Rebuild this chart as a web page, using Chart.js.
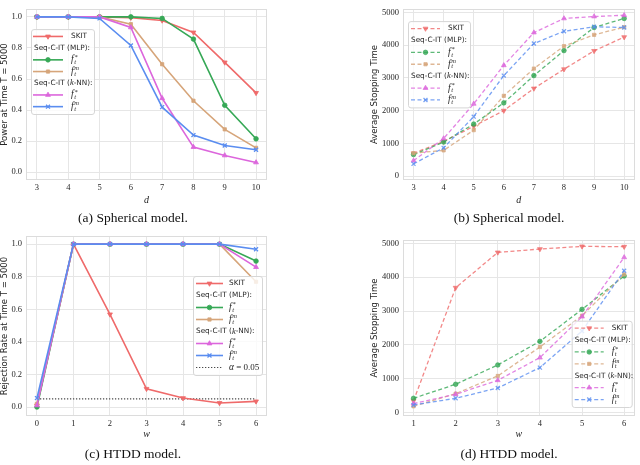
<!DOCTYPE html>
<html>
<head>
<meta charset="utf-8">
<script src="https://cdn.jsdelivr.net/npm/chart.js@4.4.0/dist/chart.umd.min.js"></script>
<style>
  body { margin: 0; background: #fff; width: 640px; height: 465px; position: relative; overflow: hidden; }
  .panel { position: absolute; }
  canvas { display: block; }
  .cap { position: absolute; width: 240px; text-align: center; font-family: 'Liberation Serif', serif; font-size: 13.5px; color: #111; }
</style>
</head>
<body>
<div class="panel" style="left:0;top:0"><canvas id="chartA" width="320" height="210"></canvas></div>
<div class="panel" style="left:320px;top:0"><canvas id="chartB" width="320" height="210"></canvas></div>
<div class="panel" style="left:0;top:225px"><canvas id="chartC" width="320" height="222"></canvas></div>
<div class="panel" style="left:320px;top:225px"><canvas id="chartD" width="320" height="222"></canvas></div>
<div class="cap" style="left:13px;top:210px">(a) Spherical model.</div>
<div class="cap" style="left:389px;top:210px">(b) Spherical model.</div>
<div class="cap" style="left:13px;top:446px">(c) HTDD model.</div>
<div class="cap" style="left:389px;top:446px">(d) HTDD model.</div>

<script>
// x values
const dValues = [3, 4, 5, 6, 7, 8, 9, 10];
const wValues = [0, 1, 2, 3, 4, 5, 6];
const wValuesStop = [1, 2, 3, 4, 5, 6];

// (a) power at T = 5000, spherical model
const powerSkit    = [1.0, 1.0, 1.0, 0.995, 0.977, 0.90, 0.707, 0.511];
const powerMlpStar = [1.0, 1.0, 1.0, 1.0, 0.99, 0.857, 0.431, 0.215];
const powerMlpM    = [1.0, 1.0, 1.0, 0.953, 0.695, 0.46, 0.276, 0.157];
const powerKnnStar = [1.0, 1.0, 1.0, 0.932, 0.476, 0.162, 0.108, 0.063];
const powerKnnM    = [1.0, 1.0, 0.99, 0.816, 0.419, 0.239, 0.172, 0.145];

// (b) average stopping time, spherical model
const stopSphSkit    = [696, 1059, 1520, 2000, 2676, 3265, 3824, 4245];
const stopSphMlpStar = [657, 1039, 1588, 2235, 3069, 3833, 4539, 4814];
const stopSphMlpM    = [700, 784, 1402, 2451, 3284, 3970, 4314, 4549];
const stopSphKnnStar = [470, 1147, 2206, 3382, 4382, 4814, 4873, 4912];
const stopSphKnnM    = [373, 863, 1814, 3069, 4049, 4422, 4559, 4539];

// (c) rejection rate at T = 5000, HTDD model
const rejSkit    = [0.01, 1.0, 0.569, 0.112, 0.055, 0.025, 0.035];
const rejMlpStar = [0.0, 1.0, 1.0, 1.0, 1.0, 1.0, 0.896];
const rejMlpM    = [0.02, 1.0, 1.0, 1.0, 1.0, 1.0, 0.769];
const rejKnnStar = [0.01, 1.0, 1.0, 1.0, 1.0, 1.0, 0.859];
const rejKnnM    = [0.055, 1.0, 1.0, 1.0, 1.0, 1.0, 0.969];
const alphaLevel = 0.05;

// (d) average stopping time, HTDD model
const stopHtddSkit    = [345, 3691, 4734, 4833, 4912, 4902];
const stopHtddMlpStar = [423, 837, 1408, 2106, 3051, 4036];
const stopHtddMlpM    = [187, 561, 1083, 1939, 2864, 4085];
const stopHtddKnnStar = [266, 541, 955, 1624, 2835, 4587];
const stopHtddKnnM    = [226, 423, 728, 1329, 2412, 4193];

// labels and ticks
const seriesLabels = ['SKIT', 'f_t^*', 'f_t^m', 'f_t^*', 'f_t^m'];
const groupHeaders = ['Seq-C-IT (MLP):', 'Seq-C-IT (k-NN):'];
const alphaLabel = 'α = 0.05';
const dTicks = [3, 4, 5, 6, 7, 8, 9, 10];
const wTicks = [0, 1, 2, 3, 4, 5, 6];
const wStopTicks = [1, 2, 3, 4, 5, 6];
const rateTicks = [0.0, 0.2, 0.4, 0.6, 0.8, 1.0];
const stopTicks = [0, 1000, 2000, 3000, 4000, 5000];

// styles
const seriesStyles = [
    { rgb: '239,106,106', point: 'triangle', rot: 180, r: 2.8 },
    { rgb: '54,168,86',   point: 'circle',   rot: 0,   r: 2.3 },
    { rgb: '214,165,122', point: 'rect',     rot: 0,   r: 2.3 },
    { rgb: '220,102,220', point: 'triangle', rot: 0,   r: 2.8 },
    { rgb: '90,141,240',  point: 'crossRot', rot: 0,   r: 2.8 }
];

const H = Chart.helpers;

function makeSeries(xs, ysList, dashed) {
    const n = ysList.length;
    return ysList.map((ys, i) => {
        const st = seriesStyles[i];
        const col = dashed ? `rgba(${st.rgb},0.8)` : `rgb(${st.rgb})`;
        return {
            label: seriesLabels[i],
            data: xs.map((x, k) => ({ x: x, y: ys[k] })),
            borderColor: col,
            backgroundColor: col,
            borderWidth: dashed ? 1.3 : 1.6,
            borderDash: dashed ? [4, 2.5] : [],
            pointStyle: st.point,
            pointRotation: st.rot,
            pointRadius: st.r,
            pointBackgroundColor: col,
            pointBorderColor: col,
            pointBorderWidth: st.point === 'crossRot' ? 1.3 : 0.8,
            tension: 0,
            fill: false,
            order: n - i
        };
    });
}

function drawHeader(ctx, text, x, y) {
    ctx.fillStyle = '#262626';
    ctx.textBaseline = 'middle';
    ctx.textAlign = 'left';
    const parts = text.split('k-');
    ctx.font = '7.3px "DejaVu Sans"';
    ctx.fillText(parts[0], x, y);
    if (parts.length > 1) {
        let xx = x + ctx.measureText(parts[0]).width;
        ctx.font = 'italic 8.5px "Liberation Serif"';
        ctx.fillText('k', xx, y);
        xx += ctx.measureText('k').width;
        ctx.font = '7.3px "DejaVu Sans"';
        ctx.fillText('-' + parts[1], xx, y);
    }
}

function drawLabel(ctx, label, x, y) {
    ctx.fillStyle = '#262626';
    ctx.textBaseline = 'middle';
    ctx.textAlign = 'left';
    if (label.startsWith('f_t^')) {
        ctx.font = 'italic 9.5px "Liberation Serif"';
        ctx.fillText('f', x, y);
        const xx = x + ctx.measureText('f').width + 0.5;
        ctx.font = 'italic 6.5px "Liberation Serif"';
        ctx.fillText('t', xx, y + 2.5);
        ctx.fillText(label.slice(4), xx, y - 3);
    } else if (label.startsWith('α')) {
        ctx.font = 'italic 9.5px "Liberation Serif"';
        ctx.fillText('α', x, y);
        const xx = x + ctx.measureText('α').width;
        ctx.font = '9px "Liberation Serif"';
        ctx.fillText(label.slice(1), xx, y);
    } else {
        ctx.font = '7.3px "DejaVu Sans"';
        ctx.fillText(label, x, y);
    }
}

function drawSample(ctx, ds, x1, x2, y) {
    ctx.strokeStyle = ds.borderColor;
    ctx.lineWidth = ds.borderWidth;
    ctx.setLineDash(ds.borderDash || []);
    ctx.beginPath();
    ctx.moveTo(x1, y);
    ctx.lineTo(x2, y);
    ctx.stroke();
    ctx.setLineDash([]);
    if (ds.pointRadius > 0) {
        ctx.fillStyle = ds.pointBackgroundColor;
        ctx.strokeStyle = ds.pointBorderColor;
        ctx.lineWidth = ds.pointBorderWidth;
        H.drawPoint(ctx, {
            pointStyle: ds.pointStyle, radius: ds.pointRadius,
            rotation: ds.pointRotation, borderWidth: ds.pointBorderWidth
        }, (x1 + x2) / 2, y);
    }
}

// legend with group headings, drawn inside the plot area
const sectionLegend = {
    id: 'sectionLegend',
    afterDatasetsDraw(chart, args, o) {
        if (!o.rows) return;
        const { ctx, chartArea: a } = chart;
        const h = o.rows.length * o.pitch + 3;
        const x0 = o.right != null ? a.right - o.right - o.width : a.left + o.left;
        const y0 = o.bottom != null ? a.bottom - o.bottom - h : a.top + o.top;
        ctx.save();
        ctx.beginPath();
        ctx.roundRect(x0 + 0.5, y0 + 0.5, o.width, h, 2.5);
        ctx.fillStyle = 'rgba(255,255,255,0.8)';
        ctx.fill();
        ctx.strokeStyle = '#d6d6d6';
        ctx.lineWidth = 1;
        ctx.stroke();
        o.rows.forEach((row, i) => {
            const cy = y0 + 1.5 + o.pitch * (i + 0.5);
            if (typeof row === 'string') {
                drawHeader(ctx, row, x0 + 3, cy);
            } else {
                const ds = chart.data.datasets[row];
                drawSample(ctx, ds, x0 + o.sampleX, x0 + o.sampleX + o.sampleW, cy);
                drawLabel(ctx, ds.label, x0 + o.textX, cy);
            }
        });
        ctx.restore();
    }
};

// light frame round the axes
const axesFrame = {
    id: 'axesFrame',
    beforeDatasetsDraw(chart) {
        const { ctx, chartArea: a } = chart;
        ctx.save();
        ctx.strokeStyle = '#dcdcdc';
        ctx.lineWidth = 1;
        ctx.strokeRect(Math.round(a.left) + 0.5, Math.round(a.top) + 0.5,
            Math.round(a.right - a.left) - 1, Math.round(a.bottom - a.top) - 1);
        ctx.restore();
    }
};

function makeChart(id, c) {
    const tickFont = { family: 'Liberation Serif', size: 8.5 };
    return new Chart(document.getElementById(id), {
        type: 'line',
        data: { datasets: c.datasets },
        plugins: [axesFrame, sectionLegend],
        options: {
            responsive: false,
            animation: false,
            layout: { padding: c.padding },
            plugins: {
                legend: { display: false },
                tooltip: { enabled: false },
                sectionLegend: c.legend
            },
            scales: {
                x: {
                    type: 'linear',
                    min: c.xMin, max: c.xMax,
                    afterBuildTicks: s => { s.ticks = c.xTicks.map(v => ({ value: v })); },
                    afterFit: s => { s.height = c.xHeight; },
                    grid: { color: '#e6e6e6', lineWidth: 1, drawTicks: false },
                    border: { display: false },
                    ticks: { font: tickFont, color: '#262626', padding: 3, maxRotation: 0,
                             callback: v => String(v) },
                    title: { display: true, text: c.xTitle, color: '#262626',
                             font: { family: 'Liberation Serif', size: 10, style: 'italic' },
                             padding: { top: 0, bottom: c.xTitlePad } }
                },
                y: {
                    type: 'linear',
                    min: c.yMin, max: c.yMax,
                    afterBuildTicks: s => { s.ticks = c.yTicks.map(v => ({ value: v })); },
                    afterFit: s => { s.width = c.yWidth; },
                    grid: { color: '#e6e6e6', lineWidth: 1, drawTicks: false },
                    border: { display: false },
                    ticks: { font: tickFont, color: '#262626', padding: 4, callback: c.yFmt },
                    title: { display: true, text: c.yTitle, color: '#262626',
                             font: { family: 'DejaVu Sans', size: 8.5 },
                             padding: { top: c.yTitlePad, bottom: 0 } }
                }
            }
        }
    });
}

const rateFmt = v => v.toFixed(1);
const stopFmt = v => String(v);

makeChart('chartA', {
    datasets: makeSeries(dValues, [powerSkit, powerMlpStar, powerMlpM, powerKnnStar, powerKnnM], false),
    padding: { left: 0, right: 53, top: 2, bottom: 0 },
    xMin: 2.65, xMax: 10.35, yMin: -0.05, yMax: 1.05,
    xTicks: dTicks, yTicks: rateTicks, yFmt: rateFmt,
    xHeight: 30, yWidth: 26, xTitle: 'd', xTitlePad: 4, yTitlePad: 0,
    yTitle: 'Power at Time T = 5000',
    legend: { rows: [0, groupHeaders[0], 1, 2, groupHeaders[1], 3, 4],
              left: 5, top: 20, width: 63, pitch: 11.7, sampleX: 2, sampleW: 30, textX: 40 }
});

makeChart('chartB', {
    datasets: makeSeries(dValues, [stopSphSkit, stopSphMlpStar, stopSphMlpM, stopSphKnnStar, stopSphKnnM], true),
    padding: { left: 47, right: 2, top: 5, bottom: 0 },
    xMin: 2.65, xMax: 10.35, yMin: -120, yMax: 5100,
    xTicks: dTicks, yTicks: stopTicks, yFmt: stopFmt,
    xHeight: 30, yWidth: 36, xTitle: 'd', xTitlePad: 4, yTitlePad: 3,
    yTitle: 'Average Stopping Time',
    legend: { rows: [0, groupHeaders[0], 1, 2, groupHeaders[1], 3, 4],
              left: 5, top: 12, width: 62, pitch: 11.9, sampleX: 3, sampleW: 29, textX: 40 }
});

makeChart('chartC', {
    datasets: makeSeries(wValues, [rejSkit, rejMlpStar, rejMlpM, rejKnnStar, rejKnnM], false).concat([{
        label: alphaLabel,
        data: [{ x: wValues[0], y: alphaLevel }, { x: wValues[wValues.length - 1], y: alphaLevel }],
        borderColor: '#4a4a4a', borderWidth: 1.1, borderDash: [1.3, 1.7],
        pointRadius: 0, fill: false, order: 10
    }]),
    padding: { left: 0, right: 53, top: 11, bottom: 0 },
    xMin: -0.3, xMax: 6.3, yMin: -0.055, yMax: 1.05,
    xTicks: wTicks, yTicks: rateTicks, yFmt: rateFmt,
    xHeight: 31, yWidth: 26, xTitle: 'w', xTitlePad: 7, yTitlePad: 0,
    yTitle: 'Rejection Rate at Time T = 5000',
    legend: { rows: [0, groupHeaders[0], 1, 2, groupHeaders[1], 3, 4, 5],
              right: 5, top: 40, width: 69, pitch: 12, sampleX: 3, sampleW: 27, textX: 36 }
});

makeChart('chartD', {
    datasets: makeSeries(wValuesStop, [stopHtddSkit, stopHtddMlpStar, stopHtddMlpM, stopHtddKnnStar, stopHtddKnnM], true),
    padding: { left: 47, right: 2, top: 15, bottom: 0 },
    xMin: 0.75, xMax: 6.25, yMin: -100, yMax: 5100,
    xTicks: wStopTicks, yTicks: stopTicks, yFmt: stopFmt,
    xHeight: 31, yWidth: 36, xTitle: 'w', xTitlePad: 7, yTitlePad: 3,
    yTitle: 'Average Stopping Time',
    legend: { rows: [0, groupHeaders[0], 1, 2, groupHeaders[1], 3, 4],
              right: 3, bottom: 9, width: 60, pitch: 11.9, sampleX: 3, sampleW: 29, textX: 40 }
});
</script>
</body>
</html>
